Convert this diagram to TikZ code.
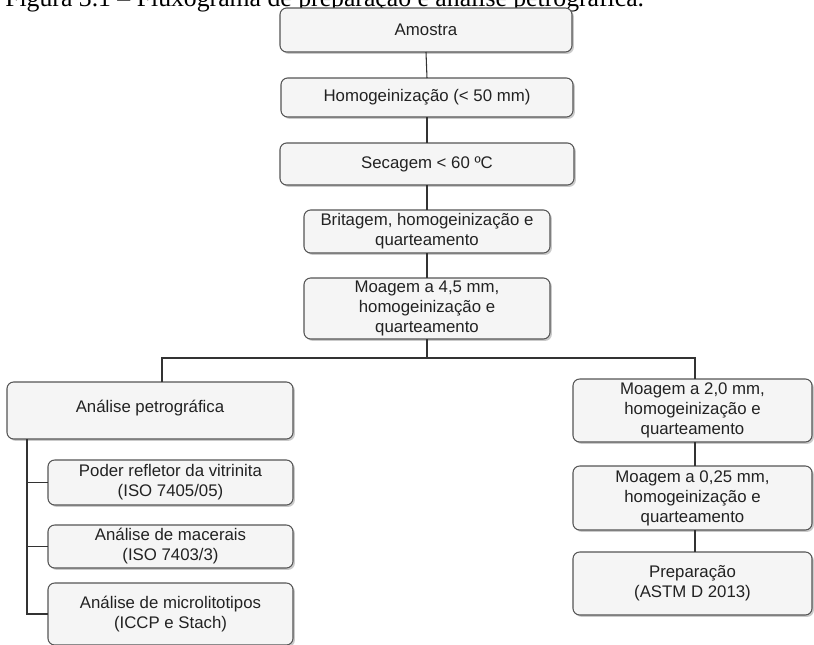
\documentclass[tikz,border=0pt]{standalone}
\usepackage{fontspec}
\setmainfont{Liberation Sans}
\newfontfamily\capfont{Liberation Serif}
\usetikzlibrary{shadows}
\definecolor{boxfill}{HTML}{F5F5F5}
\definecolor{boxline}{HTML}{555555}
\definecolor{linkcol}{HTML}{333333}
\definecolor{txtcol}{HTML}{222222}
\tikzset{
  boxst/.style={draw=boxline, line width=0.8pt, fill=boxfill, rounded corners=5pt,
    inner sep=0pt, outer sep=0pt, align=center, text=txtcol,
    font=\fontsize{12.6pt}{15pt}\selectfont,
    drop shadow={shadow xshift=1.4pt, shadow yshift=-1.4pt, fill=black!35, opacity=0.6}},
  link/.style={draw=linkcol, line width=0.8pt}
}
\newcommand{\bx}[6]{\node[boxst, minimum width={(#4-#2)*0.75pt}, minimum height={(#5-#3)*0.75pt}] (#1) at ({(#2+#4)/2},{(#3+#5)/2}) {#6};}
\begin{document}
\begin{tikzpicture}[x=0.75pt,y=-0.75pt]
\useasboundingbox (0,0) rectangle (814,644);
\node[anchor=base west, inner sep=0pt, font=\capfont\fontsize{19.3pt}{23pt}\selectfont] (cap) at (5,6) {Figura 3.1 – Fluxograma de preparação e análise petrográfica.};
% central column
\bx{amo}{280}{8}{572}{52}{Amostra}
\bx{hom}{281}{78}{573}{117}{Homogeinização (< 50 mm)}
\bx{sec}{280}{143}{574}{185}{Secagem < 60 ºC}
\bx{bri}{304}{210}{550}{253}{Britagem, homogeinização e\\quarteamento}
\bx{m45}{304}{278}{550}{339}{Moagem a 4,5 mm,\\homogeinização e\\quarteamento}
% left column
\bx{pet}{7}{382}{293}{439}{\raisebox{5.6pt}{Análise petrográfica}}
\bx{pod}{48}{460}{293}{505}{Poder refletor da vitrinita\\(ISO 7405/05)}
\bx{mac}{48}{525}{293}{568}{Análise de macerais\\(ISO 7403/3)}
\bx{mic}{48}{583}{293}{645}{Análise de microlitotipos\\(ICCP e Stach)}
% right column
\bx{m20}{573}{379}{812}{442}{Moagem a 2,0 mm,\\homogeinização e\\quarteamento}
\bx{m025}{573}{466}{812}{530}{Moagem a 0,25 mm,\\homogeinização e\\quarteamento}
\bx{pre}{573}{552}{812}{615}{Preparação\\(ASTM D 2013)}
% connectors
\coordinate (jl) at (162,358);
\coordinate (jr) at (695,358);
\coordinate (sp) at (27,0);
\draw[link] (amo.south) -- (hom.north);
\draw[link] (hom.south) -- (sec.north);
\draw[link] (sec.south) -- (bri.north);
\draw[link] (bri.south) -- (m45.north);
\draw[link] (m45.south) -- (m45.south |- jl);
\draw[link] (jl |- pet.north) -- (jl) -- (jr) -- (jr |- m20.north);
\draw[link] (m20.south -| jr) -- (m025.north -| jr);
\draw[link] (m025.south -| jr) -- (pre.north -| jr);
\draw[link] (pet.south -| sp) |- (mic.west);
\draw[link] (sp |- pod.west) -- (pod.west);
\draw[link] (sp |- mac.west) -- (mac.west);
\end{tikzpicture}
\end{document}
